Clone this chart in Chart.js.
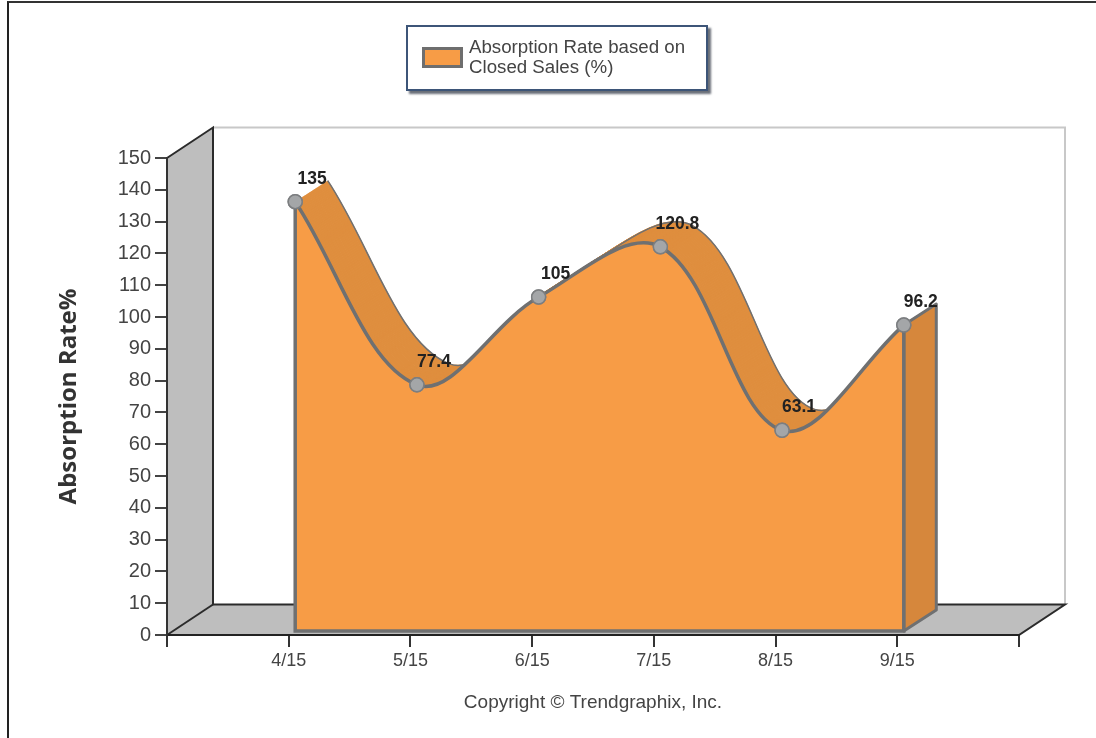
<!DOCTYPE html>
<html>
<head>
<meta charset="utf-8">
<title>Absorption Rate</title>
<script src="https://cdn.jsdelivr.net/npm/chart.js@4"></script>
<style>
  body { margin: 0; background: #fff; }
  #wrap { position: relative; width: 1096px; height: 738px; overflow: hidden; }
  #frame { position: absolute; left: 7px; top: 1px; width: 1100px; height: 760px; border-left: 2px solid #222; border-top: 2px solid #333; }
  #legend { position: absolute; left: 406px; top: 25px; width: 298px; height: 62px; border: 2px solid #3d5578; background: #fff; box-shadow: 3px 3px 2px #6a6f78; font: 18.7px/20px "Liberation Sans", sans-serif; color: #444; }
  #legend i { position: absolute; left: 14px; top: 20px; width: 35px; height: 15px; background: #f79c46; border: 3px solid #6e6e6e; }
  #legend span { position: absolute; left: 61px; top: 10px; width: 235px; white-space: nowrap; }
  canvas { position: absolute; left: 0; top: 0; }
</style>
</head>
<body>
<div id="wrap">
  <canvas id="chart" width="1096" height="738"></canvas>
  <div id="frame"></div>
  <div id="legend"><i></i><span>Absorption Rate based on<br>Closed Sales (%)</span></div>
</div>
<script>
const categories = ["", "4/15", "5/15", "6/15", "7/15", "8/15", "9/15", ""];
const absorptionRate = [null, 135, 77.4, 105, 120.8, 63.1, 96.2, null];
const valueLabels = ["", "135", "77.4", "105", "120.8", "63.1", "96.2", ""];

// the front face sits a little inside the box, the ribbon goes back from it
const faceDx = 6.5, faceDy = -4;
const ribbonDx = 32.5, ribbonDy = -21;
const wallDx = 46, wallDy = -30.5;

const lineGray = "#6f7071";

const fake3d = {
  id: "fake3d",
  beforeDraw(chart) {
    const { left, right, top, bottom } = chart.chartArea;
    const ctx = chart.ctx;
    ctx.save();
    // back wall edge
    ctx.strokeStyle = "#c8c8c8";
    ctx.lineWidth = 2;
    ctx.beginPath();
    ctx.moveTo(left + wallDx, top + wallDy);
    ctx.lineTo(right + wallDx, top + wallDy);
    ctx.lineTo(right + wallDx, bottom + wallDy);
    ctx.stroke();
    // left wall and floor
    ctx.fillStyle = "#bebebe";
    ctx.strokeStyle = "#2b2b2b";
    ctx.beginPath();
    ctx.moveTo(left, top);
    ctx.lineTo(left + wallDx, top + wallDy);
    ctx.lineTo(left + wallDx, bottom + wallDy);
    ctx.lineTo(right + wallDx, bottom + wallDy);
    ctx.lineTo(right, bottom);
    ctx.lineTo(left, bottom);
    ctx.closePath();
    ctx.fill();
    ctx.stroke();
    ctx.beginPath();
    ctx.moveTo(left, bottom);
    ctx.lineTo(left + wallDx, bottom + wallDy);
    ctx.stroke();
    ctx.restore();
  },
  beforeDatasetsDraw(chart) {
    const ctx = chart.ctx;
    const meta = chart.getDatasetMeta(0);
    const line = meta.dataset;
    const pts = meta.data.filter(p => !p.skip);
    const last = pts[pts.length - 1];
    const base = chart.scales.y.getPixelForValue(0);

    ctx.save();
    ctx.translate(faceDx, faceDy);

    // ribbon: sweep the curve backwards
    ctx.strokeStyle = "#df8e3e";
    ctx.lineWidth = 2;
    ctx.lineJoin = "round";
    for (let i = 0; i <= ribbonDx; i++) {
      ctx.save();
      ctx.translate(i, ribbonDy * i / ribbonDx);
      ctx.beginPath();
      line.path(ctx);
      ctx.stroke();
      ctx.restore();
    }
    // back edge of the ribbon
    ctx.save();
    ctx.translate(ribbonDx, ribbonDy);
    ctx.strokeStyle = lineGray;
    ctx.lineWidth = 1.5;
    ctx.beginPath();
    line.path(ctx);
    ctx.stroke();
    ctx.restore();

    // right side face
    ctx.fillStyle = "#d6873c";
    ctx.strokeStyle = lineGray;
    ctx.lineWidth = 3;
    ctx.beginPath();
    ctx.moveTo(last.x, last.y);
    ctx.lineTo(last.x + ribbonDx, last.y + ribbonDy);
    ctx.lineTo(last.x + ribbonDx, base + ribbonDy);
    ctx.lineTo(last.x, base);
    ctx.closePath();
    ctx.fill();
    ctx.stroke();

    ctx.restore();

    // everything the library draws for the dataset moves onto the front face
    ctx.save();
    ctx.translate(faceDx, faceDy);
  },
  afterDatasetsDraw(chart) {
    const ctx = chart.ctx;
    const meta = chart.getDatasetMeta(0);
    const pts = meta.data.filter(p => !p.skip);
    const first = pts[0], last = pts[pts.length - 1];
    const base = chart.scales.y.getPixelForValue(0);

    // front face outline, the curve itself is the dataset border
    ctx.strokeStyle = lineGray;
    ctx.lineWidth = 3.5;
    ctx.beginPath();
    ctx.moveTo(first.x, first.y);
    ctx.lineTo(first.x, base);
    ctx.lineTo(last.x, base);
    ctx.lineTo(last.x, last.y);
    ctx.stroke();

    // redraw the points over the outline
    meta.data.forEach(p => { if (!p.skip) p.draw(ctx, chart.chartArea); });

    ctx.font = "bold 17.5px 'Liberation Sans', sans-serif";
    ctx.fillStyle = "#222";
    ctx.textAlign = "center";
    ctx.textBaseline = "middle";
    meta.data.forEach((p, i) => {
      if (!p.skip) ctx.fillText(valueLabels[i], p.x + 17, p.y - 23);
    });
    ctx.restore();
  }
};

new Chart(document.getElementById("chart"), {
  type: "line",
  data: {
    labels: categories,
    datasets: [{
      label: "Absorption Rate based on Closed Sales (%)",
      data: absorptionRate,
      fill: "origin",
      backgroundColor: "#f79c46",
      borderColor: lineGray,
      borderWidth: 3.5,
      tension: 0.36,
      pointRadius: 7,
      pointBackgroundColor: "#a4a6a8",
      pointBorderColor: "#7c7e80",
      pointBorderWidth: 1.5
    }]
  },
  options: {
    responsive: false,
    animation: false,
    layout: { padding: { left: 0, right: 77, top: 158, bottom: 0 } },
    plugins: { legend: { display: false }, tooltip: { enabled: false } },
    scales: {
      x: {
        afterFit(s) { s.height = 103; },
        grid: { drawOnChartArea: false, tickLength: 12, color: "#333", lineWidth: 2 },
        border: { color: "#222", width: 2 },
        ticks: { autoSkip: false, maxRotation: 0, padding: 3, color: "#444", font: { family: "'Liberation Sans', sans-serif", size: 18 } },
        title: { display: true, text: "Copyright © Trendgraphix, Inc.", color: "#444", padding: { bottom: 24 }, font: { family: "'Liberation Sans', sans-serif", size: 19 } }
      },
      y: {
        min: 0,
        max: 150,
        afterFit(s) { s.width = 167; },
        grid: { drawOnChartArea: false, tickLength: 12, color: "#444", lineWidth: 2 },
        border: { color: "#333", width: 2 },
        ticks: { stepSize: 10, padding: 4, color: "#444", font: { family: "'Liberation Sans', sans-serif", size: 20 } },
        title: { display: true, text: "Absorption Rate%", color: "#333", padding: { top: 55 }, font: { family: "'Open Sans', sans-serif", size: 24, weight: "bold" } }
      }
    }
  },
  plugins: [fake3d]
});
</script>
</body>
</html>
